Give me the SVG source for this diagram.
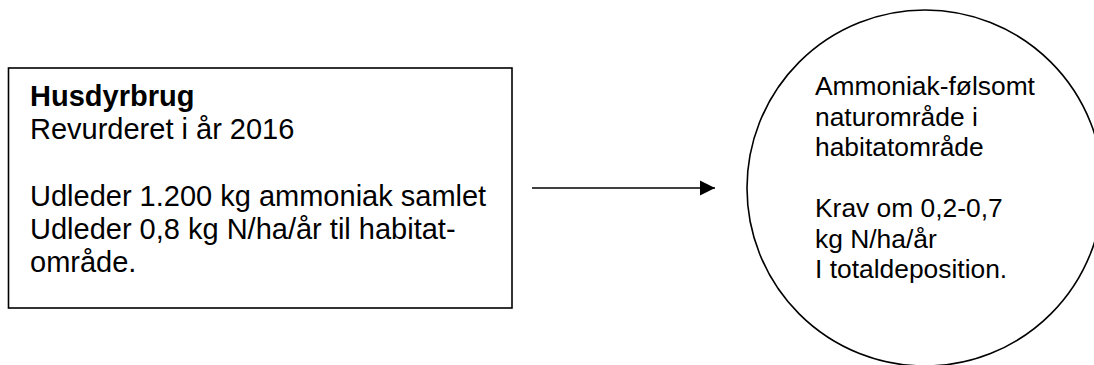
<svg xmlns="http://www.w3.org/2000/svg" width="1094" height="365" viewBox="0 0 1094 365">
<defs>
<style>
.shape{fill:#fff;stroke:#000;stroke-width:1.6}
.t{font-family:"Liberation Sans",Arial,sans-serif;fill:#000}
.box{font-size:29px}
.circ{font-size:26.4px}
.b{font-weight:bold}
.conn{stroke:#000;stroke-width:1.4;fill:none}
</style>
<marker id="arr" markerUnits="userSpaceOnUse" markerWidth="16" markerHeight="16" refX="15" refY="8" orient="auto">
<path d="M0,0.5 L15,8 L0,15.5 Z" fill="#000"/>
</marker>
</defs>
<rect width="1094" height="365" fill="#fff"/>
<g id="husdyrbrug">
<rect class="shape" x="8.5" y="68" width="503.5" height="240"/>
<text class="t box b" x="30" y="106">Husdyrbrug</text>
<text class="t box" x="30" y="139">Revurderet i år 2016</text>
<text class="t box" x="30" y="206">Udleder 1.200 kg ammoniak samlet</text>
<text class="t box" x="30" y="239">Udleder 0,8 kg N/ha/år til habitat-</text>
<text class="t box" x="30" y="272">område.</text>
</g>
<g id="naturomraade">
<circle class="shape" cx="925" cy="188" r="178"/>
<text class="t circ" x="815" y="95">Ammoniak-følsomt</text>
<text class="t circ" x="815" y="125.5">naturområde i</text>
<text class="t circ" x="815" y="156">habitatområde</text>
<text class="t circ" x="815" y="217">Krav om 0,2-0,7</text>
<text class="t circ" x="815" y="247.5">kg N/ha/år</text>
<text class="t circ" x="815" y="278">I totaldeposition.</text>
</g>
<g id="connectors">
<line class="conn" x1="532" y1="188" x2="715" y2="188" marker-end="url(#arr)"/>
</g>
</svg>
